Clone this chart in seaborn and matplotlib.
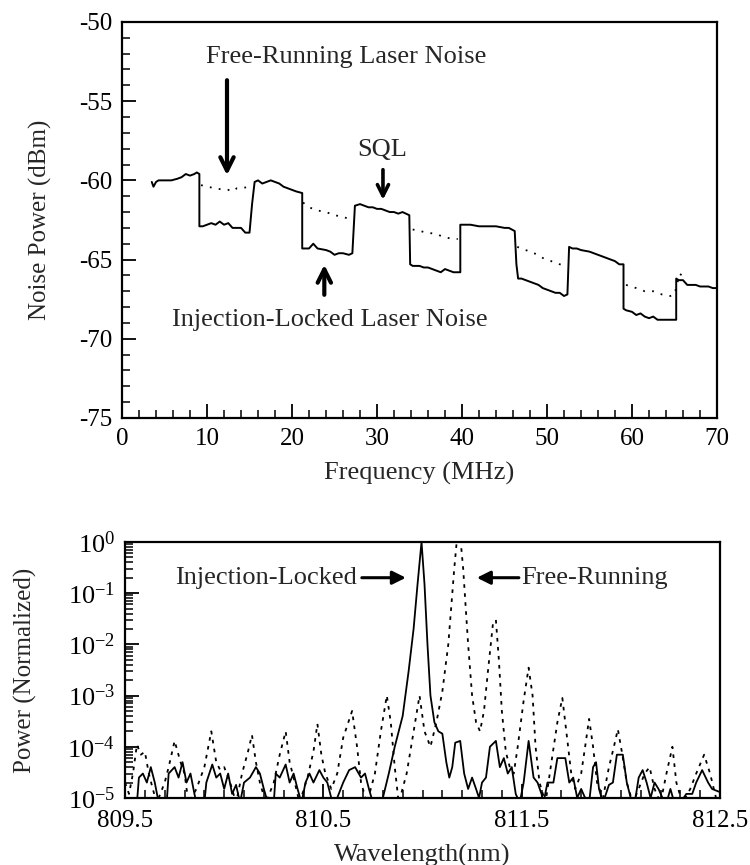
import numpy as np
import pandas as pd
import matplotlib
matplotlib.use("Agg")
import matplotlib.pyplot as plt
import seaborn as sns
from matplotlib.ticker import MultipleLocator, LogLocator, FixedLocator, NullFormatter

sns.set_style("ticks")
plt.rcParams['font.family'] = ['Liberation Serif', 'DejaVu Serif']
plt.rcParams['mathtext.fontset'] = 'stix'
plt.rcParams['axes.unicode_minus'] = False

# --- top panel: noise power vs frequency ---
# injection-locked / SQL trace (solid)
locked_freq = [3.5, 3.7, 4.0, 4.3, 5.0, 5.8, 6.5, 7.0, 7.5, 8.0, 8.5, 8.8, 9.1,
               9.1, 9.5, 10, 10.5, 11, 11.5, 12, 12.5, 13, 13.5, 14, 14.5, 15.0,
               15.3, 15.6, 16, 16.5, 17, 17.5, 18, 18.5, 19, 19.5, 20, 20.5, 21.2,
               21.2, 22, 22.5, 23, 24, 24.5, 25, 25.5, 26, 26.7, 27.1,
               27.4, 28, 28.5, 29, 29.5, 30, 30.5, 31, 31.5, 32, 32.5, 33, 33.8,
               33.9, 34.2, 35, 35.5, 36, 36.5, 37, 37.5, 38, 38.5, 39, 39.8,
               39.8, 40.5, 41, 42, 43, 44, 45, 45.5, 46.2,
               46.4, 46.6, 47, 47.5, 48, 48.5, 49, 49.5, 50, 50.5, 51, 51.5, 52, 52.4,
               52.6, 53, 53.5, 54, 55, 55.5, 56, 56.5, 57, 57.5, 58, 58.5, 59.0,
               59.0, 59.3, 60, 60.5, 61, 61.5, 62, 62.5, 63, 64, 65.2,
               65.2, 65.5, 66, 66.5, 67, 67.5, 68, 68.5, 69, 69.5, 70]
locked_db = [-60.1, -60.4, -60.1, -60.0, -60.0, -60.0, -59.9, -59.8, -59.6, -59.7, -59.6, -59.5, -59.6,
             -62.9, -62.9, -62.8, -62.7, -62.8, -62.6, -62.8, -62.7, -63.0, -63.0, -63.0, -63.3, -63.3,
             -61.5, -60.1, -60.0, -60.2, -60.1, -60.0, -60.1, -60.2, -60.4, -60.5, -60.6, -60.7, -60.8,
             -64.3, -64.3, -64.0, -64.3, -64.4, -64.5, -64.7, -64.6, -64.6, -64.7, -64.6,
             -61.6, -61.5, -61.6, -61.7, -61.7, -61.8, -61.8, -61.9, -62.0, -62.0, -62.1, -62.0, -62.2,
             -65.3, -65.4, -65.4, -65.5, -65.5, -65.6, -65.7, -65.8, -65.6, -65.7, -65.8, -65.8,
             -62.8, -62.8, -62.8, -62.9, -62.9, -62.9, -63.0, -63.0, -63.2,
             -65.3, -66.2, -66.2, -66.3, -66.4, -66.5, -66.6, -66.8, -66.9, -67.0, -67.1, -67.1, -67.3, -67.2,
             -64.2, -64.3, -64.3, -64.4, -64.5, -64.6, -64.7, -64.8, -64.9, -65.0, -65.1, -65.3, -65.3,
             -68.1, -68.2, -68.3, -68.5, -68.4, -68.6, -68.7, -68.6, -68.8, -68.8, -68.8,
             -66.2, -66.3, -66.3, -66.6, -66.6, -66.6, -66.7, -66.7, -66.7, -66.8, -66.8]

# free-running trace (dotted), visible where it splits from the solid trace
free_seg = [0] * 9 + [1] * 8 + [2] * 7 + [3] * 7 + [4] * 9
free_freq = [9.3, 10, 11, 12, 12.5, 13, 13.5, 14, 15,
             21.3, 22, 23, 24, 25, 26, 26.5, 27,
             34.2, 35, 36, 37, 38, 39, 39.5,
             46.5, 47.5, 48.5, 49.5, 50.5, 51.5, 52.3,
             59.3, 60.5, 61.5, 62.5, 63.5, 64.5, 65, 65.6, 66.2]
free_db = [-60.3, -60.4, -60.5, -60.6, -60.6, -60.7, -60.5, -60.5, -60.4,
           -61.4, -61.7, -61.9, -62.0, -62.2, -62.3, -62.4, -62.1,
           -63.1, -63.2, -63.3, -63.4, -63.6, -63.7, -63.7,
           -64.2, -64.4, -64.6, -64.9, -65.1, -65.3, -65.3,
           -66.6, -66.8, -67.0, -67.0, -67.2, -67.3, -67.2, -65.9, -66.1]

# --- bottom panel: optical spectrum ---
locked_wl = [809.56, 809.57, 809.59, 809.61, 809.63, 809.65, 809.67,
             809.71, 809.72, 809.75, 809.77, 809.79, 809.81, 809.83, 809.85, 809.86,
             809.90, 809.91, 809.94, 809.96, 809.98, 810.00, 810.02, 810.04,
             810.06, 810.08, 810.10, 810.13, 810.16, 810.18, 810.20, 810.22,
             810.25, 810.26, 810.28, 810.31, 810.33, 810.35, 810.37, 810.39,
             810.41, 810.43, 810.45, 810.48, 810.50, 810.52, 810.54, 810.56,
             810.60, 810.63, 810.66, 810.69, 810.71, 810.73, 810.75,
             810.80, 810.83, 810.86, 810.90, 810.93, 810.955, 810.975, 810.995,
             811.01, 811.025, 811.04, 811.06, 811.08, 811.10, 811.12, 811.135,
             811.15, 811.165, 811.19, 811.21, 811.23, 811.25, 811.27, 811.285,
             811.30, 811.32, 811.34, 811.37, 811.39, 811.41, 811.43, 811.45,
             811.47, 811.49, 811.51, 811.535, 811.56, 811.58, 811.60, 811.61,
             811.63, 811.66, 811.68, 811.72, 811.74, 811.76, 811.78, 811.80,
             811.82, 811.84, 811.86, 811.875, 811.89, 811.91, 811.94, 811.96,
             811.98, 812.01, 812.03, 812.05, 812.07, 812.09, 812.11, 812.13,
             812.15, 812.17, 812.19, 812.21, 812.23, 812.25, 812.27, 812.30,
             812.33, 812.36, 812.38, 812.41, 812.44, 812.46, 812.50]
locked_pw = [8e-6, 2.5e-5, 3e-5, 2e-5, 4e-5, 2e-5, 8e-6,
             8e-6, 3e-5, 4e-5, 2.5e-5, 5e-5, 2e-5, 3e-5, 1.2e-5, 8e-6,
             8e-6, 2e-5, 4.5e-5, 2.5e-5, 3e-5, 1.5e-5, 3e-5, 1.2e-5,
             1.8e-5, 8e-6, 2e-5, 2.5e-5, 4e-5, 3e-5, 1.5e-5, 8e-6,
             8e-6, 3e-5, 2.5e-5, 4.5e-5, 2e-5, 3e-5, 1.5e-5, 8e-6,
             2e-5, 3e-5, 2e-5, 3.5e-5, 2.5e-5, 2e-5, 1e-5, 8e-6,
             2e-5, 3.5e-5, 4e-5, 2.5e-5, 3e-5, 1.5e-5, 8e-6,
             1e-5, 3e-5, 1e-4, 4e-4, 3e-3, 2e-2, 1.5e-1, 1.0,
             1.5e-1, 1e-2, 1e-3, 3e-4, 2e-4, 1.8e-4, 5e-5, 2.5e-5,
             4e-5, 1.2e-4, 1.3e-4, 3e-5, 1.5e-5, 2.5e-5, 1.5e-5, 1e-5,
             2e-5, 2.5e-5, 1e-4, 1.3e-4, 4e-5, 6e-5, 3e-5, 4e-5,
             1.2e-5, 8e-6, 2e-5, 1.3e-4, 2.5e-5, 2e-5, 1.2e-5, 8e-6,
             2e-5, 2e-5, 6e-5, 6e-5, 2e-5, 2.5e-5, 1e-5, 1.5e-5,
             1e-5, 8e-6, 4e-5, 5e-5, 1.5e-5, 8e-6, 1.8e-5, 2e-5,
             7e-5, 7e-5, 2e-5, 1e-5, 8e-6, 2.5e-5, 3.5e-5, 2e-5,
             1e-5, 2e-5, 1.5e-5, 1e-5, 8e-6, 1.5e-5, 8e-6, 8e-6,
             1.2e-5, 1.2e-5, 2e-5, 3.5e-5, 2e-5, 1.5e-5, 1.3e-5]

free_wl = [809.50, 809.52, 809.54, 809.56, 809.58, 809.60, 809.62, 809.64, 809.66,
           809.70, 809.72, 809.75, 809.78, 809.80, 809.82, 809.86, 809.90, 809.935,
           809.96, 809.98, 810.00, 810.03, 810.06, 810.09, 810.12, 810.14, 810.16,
           810.18, 810.21, 810.25, 810.28, 810.31, 810.33, 810.35, 810.38, 810.42,
           810.45, 810.47, 810.49, 810.51, 810.54, 810.57, 810.60, 810.645, 810.67,
           810.69, 810.72, 810.76, 810.79, 810.82, 810.84, 810.86, 810.88, 810.92,
           810.95, 810.985, 811.01, 811.04, 811.07, 811.10, 811.13, 811.16, 811.175,
           811.19, 811.205, 811.23, 811.25, 811.27, 811.29, 811.31, 811.33, 811.355,
           811.37, 811.385, 811.40, 811.42, 811.44, 811.46, 811.48, 811.51, 811.535,
           811.555, 811.57, 811.59, 811.62, 811.65, 811.68, 811.705, 811.725, 811.75,
           811.77, 811.80, 811.82, 811.84, 811.86, 811.88, 811.91, 811.94, 811.965,
           811.985, 812.005, 812.03, 812.06, 812.09, 812.12, 812.145, 812.17, 812.20,
           812.23, 812.26, 812.28, 812.31, 812.35, 812.38, 812.42, 812.45, 812.48, 812.50]
free_pw = [2e-5, 1.2e-5, 3e-5, 1.1e-4, 7e-5, 8e-5, 3e-5, 1.5e-5, 8e-6,
           2e-5, 4e-5, 1.3e-4, 5e-5, 3e-5, 8e-6, 1.5e-5, 4e-5, 2e-4,
           5e-5, 3.5e-5, 4e-5, 2e-5, 8e-6, 3e-5, 8e-5, 1.7e-4, 5e-5,
           2e-5, 8e-6, 2e-5, 7e-5, 2e-4, 5e-5, 2.5e-5, 8e-6, 2.5e-5,
           8e-5, 2.8e-4, 7e-5, 3e-5, 1.5e-5, 3e-5, 1.5e-4, 5e-4, 1e-4,
           2e-5, 8e-6, 3e-5, 2e-4, 1e-3, 3e-4, 4e-5, 8e-6, 3e-5,
           1.5e-4, 1e-3, 2e-4, 1e-4, 3e-4, 1.2e-3, 1e-2, 3e-1, 1.3,
           1.3, 3e-1, 1e-2, 1e-3, 3e-4, 2e-4, 5e-4, 3e-3, 2.5e-2,
           3e-2, 5e-3, 5e-4, 8e-5, 4e-5, 3e-5, 1e-4, 8e-4, 3.5e-3,
           1e-3, 1e-4, 2e-5, 8e-6, 5e-5, 3e-4, 9e-4, 2e-4, 3e-5,
           1.5e-5, 3e-5, 1e-4, 3.5e-4, 1e-4, 2e-5, 1e-5, 4e-5, 1e-4,
           2.2e-4, 8e-5, 2e-5, 8e-6, 1.5e-5, 3e-5, 4e-5, 1.5e-5, 8e-6,
           3e-5, 1e-4, 2e-5, 8e-6, 1.5e-5, 3e-5, 7e-5, 3e-5, 1e-5, 1.2e-5]

FS = 18
FS_NOTE = 19
fig = plt.figure(figsize=(7.5, 8.65), dpi=100)
ax1 = fig.add_axes([0.1627, 0.5168, 0.7933, 0.4578])
ax2 = fig.add_axes([0.1667, 0.0775, 0.7933, 0.2960])

# top panel
sns.lineplot(x=locked_freq, y=locked_db, ax=ax1, sort=False, estimator=None,
             color='black', lw=1.4)
free_df = pd.DataFrame({'f': free_freq, 'db': free_db, 'seg': free_seg})
sns.lineplot(data=free_df, x='f', y='db', units='seg', estimator=None, sort=False,
             ax=ax1, color='black', lw=1.3, linestyle=(0, (1, 4)))
ax1.set_xlim(0, 70)
ax1.set_ylim(-75, -50)
ax1.xaxis.set_major_locator(MultipleLocator(10))
ax1.xaxis.set_minor_locator(MultipleLocator(2))
ax1.yaxis.set_major_locator(MultipleLocator(5))
ax1.yaxis.set_minor_locator(MultipleLocator(1))
ax1.set_xlabel("Frequency (MHz)", fontsize=FS_NOTE, labelpad=9)
ax1.set_ylabel("Noise Power (dBm)", fontsize=FS)
ax1.yaxis.set_label_coords(-0.118, 0.5)

ax1.annotate("", xy=(12.35, -59.85), xytext=(12.35, -53.5),
             arrowprops=dict(arrowstyle='->', lw=3, color='black', mutation_scale=24))
ax1.text(26.35, -52.2, "Free-Running Laser Noise", fontsize=FS_NOTE, ha='center', va='center')
ax1.annotate("", xy=(30.7, -61.4), xytext=(30.7, -59.15),
             arrowprops=dict(arrowstyle='->', lw=2.6, color='black', mutation_scale=20))
ax1.text(30.6, -58.1, "SQL", fontsize=FS_NOTE, ha='center', va='center')
ax1.annotate("", xy=(23.8, -65.15), xytext=(23.8, -67.4),
             arrowprops=dict(arrowstyle='->', lw=3, color='black', mutation_scale=24))
ax1.text(24.4, -68.8, "Injection-Locked Laser Noise", fontsize=FS_NOTE, ha='center', va='center')

# bottom panel
sns.lineplot(x=locked_wl, y=locked_pw, ax=ax2, sort=False, estimator=None,
             color='black', lw=1.3)
sns.lineplot(x=free_wl, y=free_pw, ax=ax2, sort=False, estimator=None,
             color='black', lw=1.3, linestyle=(0, (2, 3)))
ax2.set_yscale('log')
ax2.set_xlim(809.5, 812.5)
ax2.set_ylim(1e-5, 1)
ax2.xaxis.set_major_locator(FixedLocator([809.5, 810.5, 811.5, 812.5]))
ax2.xaxis.set_minor_locator(MultipleLocator(0.1))
ax2.set_xticklabels(["809.5", "810.5", "811.5", "812.5"])
ax2.yaxis.set_major_locator(LogLocator(base=10, numticks=10))
ax2.yaxis.set_minor_locator(LogLocator(base=10, subs=np.arange(2, 10), numticks=20))
ax2.yaxis.set_minor_formatter(NullFormatter())
ax2.set_xlabel("Wavelength(nm)", fontsize=FS_NOTE, labelpad=8)
ax2.set_ylabel("Power (Normalized)", fontsize=FS)
ax2.yaxis.set_label_coords(-0.148, 0.5)

ax2.annotate("", xy=(810.93, 0.2), xytext=(810.68, 0.2),
             arrowprops=dict(arrowstyle='-|>', lw=2.2, color='black', mutation_scale=20))
ax2.text(810.67, 0.2, "Injection-Locked", fontsize=FS_NOTE, ha='right', va='center')
ax2.annotate("", xy=(811.26, 0.2), xytext=(811.50, 0.2),
             arrowprops=dict(arrowstyle='-|>', lw=2.2, color='black', mutation_scale=20))
ax2.text(811.50, 0.2, "Free-Running", fontsize=FS_NOTE, ha='left', va='center')

for ax in (ax1, ax2):
    for s in ax.spines.values():
        s.set_visible(True)
        s.set_linewidth(1.6)
        s.set_color('black')
    ax.tick_params(which='both', direction='in', top=False, right=False,
                   labelsize=FS, colors='black', pad=7)
    ax.tick_params(which='major', length=10, width=1.3)
    ax.tick_params(which='minor', length=6, width=1.1)
ax2.tick_params(axis='x', which='both', pad=9)
ax2.tick_params(axis='y', which='both', labelsize=19, pad=7)

fig.savefig("out.png", dpi=100)
